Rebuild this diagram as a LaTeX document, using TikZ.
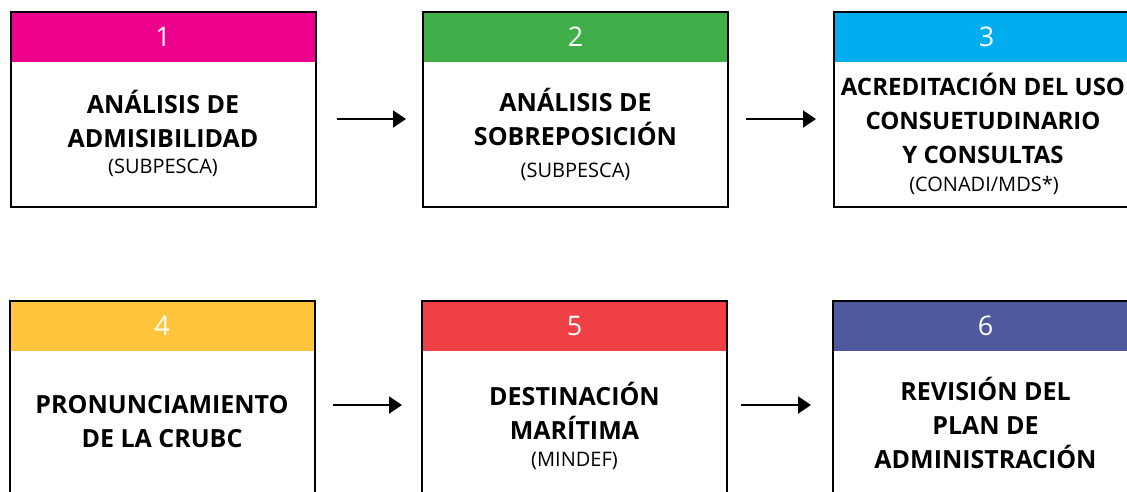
\documentclass[tikz,border=0pt]{standalone}
\usepackage{fontspec}
\setmainfont{Open Sans}
\usepackage{tikz}
\usetikzlibrary{positioning}
\usetikzlibrary{arrows.meta}
\definecolor{cMagenta}{HTML}{EC008C}
\definecolor{cGreen}{HTML}{40AE49}
\definecolor{cCyan}{HTML}{00AEEF}
\definecolor{cYellow}{HTML}{FFC53C}
\definecolor{cRed}{HTML}{EF4045}
\definecolor{cIndigo}{HTML}{4F5A9E}

\begin{document}
\begin{tikzpicture}[x=1pt,y=-1pt]
% Define styles
\tikzstyle{stage} = [rectangle, draw, line width=2pt, minimum width=305pt, minimum height=195pt, inner sep=0pt]
\tikzstyle{head} = [rectangle, minimum width=304pt, minimum height=49pt, inner sep=0pt, text=white, font=\fontsize{27}{30}\selectfont]
\tikzstyle{title} = [align=center, font=\fontsize{25}{34}\selectfont\bfseries]
\tikzstyle{who} = [font=\fontsize{20}{22}\selectfont]
\tikzstyle{flow} = [-{Triangle[length=13pt,width=17pt]}, line width=2pt]
\useasboundingbox (0,0) rectangle (1127,491);
% Define nodes
\node[head, fill=cMagenta] (head_1) at (163,37) {1};
\node[head, fill=cGreen] (head_2) at (575.5,37) {2};
\node[head, fill=cCyan] (head_3) at (986.5,37) {3};
\node[head, fill=cYellow] (head_4) at (162,326) {4};
\node[head, fill=cRed] (head_5) at (574.5,326) {5};
\node[head, fill=cIndigo] (head_6) at (985.5,326) {6};
\node[stage] (stage_1) at (163,109.5) {};
\node[stage] (stage_2) at (575.5,109.5) {};
\node[stage] (stage_3) at (986.5,109.5) {};
\node[stage] (stage_4) at (162,398.5) {};
\node[stage] (stage_5) at (574.5,398.5) {};
\node[stage] (stage_6) at (985.5,398.5) {};
\node[title] (title_1) at (163,119) {ANÁLISIS DE\\ADMISIBILIDAD};
\node[who] (who_1) at (163,168) {(SUBPESCA)};
\node[title] (title_2) at (575.5,117) {ANÁLISIS DE\\SOBREPOSICIÓN};
\node[who] (who_2) at (575.5,172) {(SUBPESCA)};
\node[title, font=\fontsize{24}{34}\selectfont\bfseries] (title_3) at (983,118) {ACREDITACIÓN DEL USO\\CONSUETUDINARIO\\Y CONSULTAS};
\node[who] (who_3) at (984,185) {(CONADI/MDS*)};
\node[title] (title_4) at (162,421.5) {PRONUNCIAMIENTO\\DE LA CRUBC};
\node[title] (title_5) at (574.5,411) {DESTINACIÓN\\MARÍTIMA};
\node[who] (who_5) at (574.5,461) {(MINDEF)};
\node[title] (title_6) at (985.5,423) {REVISIÓN DEL\\PLAN DE\\ADMINISTRACIÓN};
% Connect the nodes
\draw[flow, shorten <=20pt, shorten >=16pt] ([yshift=-9.5pt]stage_1.east) -- ([yshift=-9.5pt]stage_2.west);
\draw[flow, shorten <=17pt, shorten >=17pt] ([yshift=-9.5pt]stage_2.east) -- ([yshift=-9.5pt]stage_3.west);
\draw[flow, shorten <=17pt, shorten >=19pt] ([yshift=-6.5pt]stage_4.east) -- ([yshift=-6.5pt]stage_5.west);
\draw[flow, shorten <=13pt, shorten >=21pt] ([yshift=-6.5pt]stage_5.east) -- ([yshift=-6.5pt]stage_6.west);

\end{tikzpicture}
\end{document}
